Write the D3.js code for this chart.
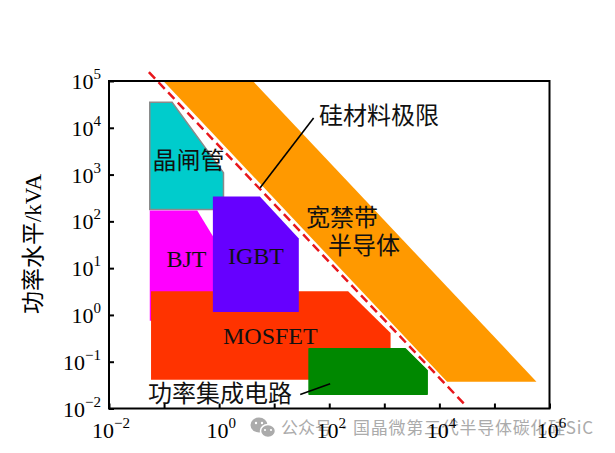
<!DOCTYPE html>
<html><head><meta charset="utf-8">
<script src="https://cdn.jsdelivr.net/npm/d3@7"></script>
<style>html,body{margin:0;padding:0;background:#fff;} svg{display:block}</style>
</head><body><svg id="c" width="615" height="453"></svg>
<script>
// ---- data ----
const xTickExps = [-2,-1,0,1,2,3,4,5,6];
const xLabelExps = [-2,0,2,4,6];
const yTickExps = [-2,-1,0,1,2,3,4,5];
const yLabelExps = [-2,-1,0,1,2,3,4,5];

const wideBandgap = [[0.097,1e5],[4.1,1e5],[580000,0.0375],[13800,0.0375]];
const thyristor   = [[0.055,35000],[0.14,35000],[1.2,1100],[1.2,180],[0.055,180]];
const bjt         = [[0.055,170],[0.4,170],[0.85,40],[0.85,0.755],[0.055,0.755]];
const mosfet      = [[0.058,3.2],[220,3.2],[1300,0.41],[1300,0.0414],[0.058,0.0414]];
const igbt        = [[0.77,340],[5.5,340],[28,43],[28,1.15],[0.77,1.15]];
const powerIC     = [[43,0.19],[2400,0.19],[6000,0.065],[6000,0.0201],[43,0.0201]];
const siliconLimit = [[0.053,155000],[30000,0.0116]];
const siLeader    = [[52,16100],[5.56,521]];
const icLeader    = [[29.7,0.0199],[104,0.034]];

const serif = "'Liberation Serif','Times New Roman','Noto Sans CJK SC',serif";

const svg = d3.select("#c");
const x = d3.scaleLog().domain([1e-2,1e6]).range([109,549.5]);
const y = d3.scaleLog().domain([1e-2,1e5]).range([408.5,81]);
const line = d3.line().x(d=>x(d[0])).y(d=>y(d[1]));
const poly = pts => line(pts) + "Z";

// regions
svg.append("path").attr("d", poly(wideBandgap)).attr("fill","#FF9900");
svg.append("path").attr("d", poly(thyristor)).attr("fill","#00CCCC").attr("stroke","#8a8a8a").attr("stroke-width",1.5);
svg.append("path").attr("d", poly(bjt)).attr("fill","#FF00FF");
svg.append("path").attr("d", poly(mosfet)).attr("fill","#FF3300");
svg.append("path").attr("d", poly(igbt)).attr("fill","#6600FF");
svg.append("path").attr("d", poly(powerIC)).attr("fill","#008800").attr("stroke","#008800").attr("stroke-width",1.5).attr("stroke-linejoin","round");

// silicon limit
svg.append("path").attr("d", line(siliconLimit)).attr("fill","none")
  .attr("stroke","#E8161B").attr("stroke-width",2.5).attr("stroke-dasharray","9,5");

// leaders
svg.append("path").attr("d", line(siLeader)).attr("stroke","#000").attr("stroke-width",1.6).attr("fill","none");
svg.append("path").attr("d", line(icLeader)).attr("stroke","#000").attr("stroke-width",1.6).attr("fill","none");

// watermark
const wm = svg.append("g").attr("fill","#ababab");
wm.append("ellipse").attr("cx",259).attr("cy",425).attr("rx",8.5).attr("ry",7.5);
wm.append("ellipse").attr("cx",268).attr("cy",431).attr("rx",7.5).attr("ry",6.5).attr("stroke","#fff").attr("stroke-width",1.5);
[[256,423],[262,423]].forEach(p=>wm.append("circle").attr("cx",p[0]).attr("cy",p[1]).attr("r",1.2).attr("fill","#fff"));
[[265,430],[271,430]].forEach(p=>wm.append("circle").attr("cx",p[0]).attr("cy",p[1]).attr("r",1.1).attr("fill","#fff"));
wm.append("text").attr("x",281).attr("y",434).attr("font-family","'Noto Sans CJK SC',sans-serif").attr("font-size",17).text("公众号 ·");
wm.append("text").attr("x",353).attr("y",434).attr("font-family","'Noto Sans CJK SC',sans-serif").attr("font-size",17)
  .attr("textLength",240).attr("lengthAdjust","spacing").text("国晶微第三代半导体碳化硅SiC");

// frame
svg.append("rect").attr("x",x(1e-2)).attr("y",y(1e5)).attr("width",x(1e6)-x(1e-2)).attr("height",y(1e-2)-y(1e5))
  .attr("fill","none").attr("stroke","#000").attr("stroke-width",2);

// axes (inward ticks)
const xAxis = d3.axisBottom(x).tickValues(xTickExps.map(e=>Math.pow(10,e))).tickSize(-5).tickSizeOuter(0).tickFormat("");
const yAxis = d3.axisLeft(y).tickValues(yTickExps.map(e=>Math.pow(10,e))).tickSize(-5).tickSizeOuter(0).tickFormat("");
const gx = svg.append("g").attr("transform",`translate(0,${y(1e-2)})`).call(xAxis);
const gy = svg.append("g").attr("transform",`translate(${x(1e-2)},0)`).call(yAxis);
[gx,gy].forEach(g=>{ g.select(".domain").remove(); g.selectAll(".tick line").attr("stroke","#000").attr("stroke-width",2); });

const expStr = e => (e<0 ? "\u2212"+(-e) : ""+e);
function supLabel(g, e, px, py, anchor){
  const t = g.append("text").attr("x",px).attr("y",py).attr("text-anchor",anchor)
    .attr("font-family",serif).attr("font-size",22).attr("fill","#000");
  t.append("tspan").text("10");
  t.append("tspan").attr("dy",-10).attr("font-size",15).text(expStr(e));
}
const labels = svg.append("g");
xLabelExps.forEach(e=>supLabel(labels, e, x(Math.pow(10,e))+2, 438, "middle"));
yLabelExps.forEach(e=>supLabel(labels, e, 101, y(Math.pow(10,e))+8, "end"));

// y title
svg.append("text").attr("transform","translate(41,244) rotate(-90)").attr("text-anchor","middle")
  .attr("font-family",serif).attr("font-size",23).attr("fill","#000").text("功率水平/kVA");

// region labels
const cjk = "'Noto Sans CJK SC',sans-serif";
function lab(txt, px, py, fam){
  svg.append("text").attr("x",px).attr("y",py).attr("font-family",fam).attr("font-size",24).attr("fill","#111").text(txt);
}
lab("晶闸管", 152.5, 168.5, cjk);
lab("硅材料极限", 319, 124, cjk);
lab("宽禁带", 306, 226, cjk);
lab("半导体", 328, 254, cjk);
lab("功率集成电路", 148, 402, cjk);
lab("BJT", 166.5, 267, serif);
lab("IGBT", 228, 263.5, serif);
lab("MOSFET", 223, 344, serif);
</script></body></html>
